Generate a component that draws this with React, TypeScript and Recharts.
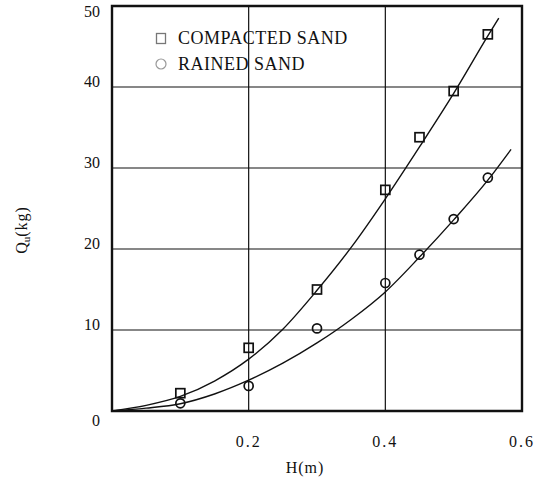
import React from "react"
import {
  ComposedChart,
  Line,
  Scatter,
  XAxis,
  YAxis,
  CartesianGrid,
  ReferenceArea,
} from "recharts"

// measured points (H in m, Qu in kg)
const compactedH = [0.1, 0.2, 0.3, 0.4, 0.45, 0.5, 0.55]
const compactedQ = [2.2, 7.8, 15.0, 27.3, 33.8, 39.5, 46.5]
const rainedH = [0.1, 0.2, 0.3, 0.4, 0.45, 0.5, 0.55]
const rainedQ = [0.95, 3.1, 10.2, 15.8, 19.3, 23.7, 28.8]

// fitted curves
const compactedCurveH = [0, 0.05, 0.1, 0.15, 0.2, 0.25, 0.3, 0.35, 0.4, 0.45, 0.5, 0.55, 0.566]
const compactedCurveQ = [0, 0.7, 1.8, 3.7, 6.4, 10.1, 14.9, 20.2, 26.2, 32.6, 39.2, 46.3, 48.5]
const rainedCurveH = [0, 0.05, 0.1, 0.15, 0.2, 0.25, 0.3, 0.35, 0.4, 0.45, 0.5, 0.55, 0.584]
const rainedCurveQ = [0, 0.35, 0.9, 2.1, 3.8, 5.9, 8.4, 11.3, 14.7, 19.0, 23.6, 28.5, 32.3]

const xTicks = [0.2, 0.4, 0.6]
const yTicks = [0, 10, 20, 30, 40, 50]

const legendItems = ["COMPACTED SAND", "RAINED SAND"]

const zip = (hs, qs) => hs.map((h, i) => ({ h, q: qs[i] }))

const INK = "#111"
const FONT = "'Liberation Serif', 'DejaVu Serif', serif"

const SquareDot = ({ cx, cy }) => (
  <rect x={cx - 4.5} y={cy - 4.5} width={9} height={9} fill="none" stroke={INK} strokeWidth={1.7} />
)

const CircleDot = ({ cx, cy }) => (
  <circle cx={cx} cy={cy} r={4.5} fill="none" stroke={INK} strokeWidth={1.7} />
)

const YTick = ({ y, payload }) => {
  const v = payload.value
  const dy = v === 0 ? 15 : v === 50 ? 8 : 0
  return (
    <text x={100} y={y + dy} textAnchor="end" fontSize={16} fontFamily={FONT} fill={INK}>
      {v}
    </text>
  )
}

const XTick = ({ x, y, payload }) => (
  <text x={x} y={y + 28} textAnchor="middle" fontSize={16} fontFamily={FONT} fill={INK} letterSpacing={2}>
    {payload.value.toFixed(1)}
  </text>
)

const LegendBox = () => (
  <div
    style={{
      position: "absolute",
      top: 25,
      left: 152,
      fontFamily: FONT,
      fontSize: 18,
      color: INK,
      letterSpacing: 0.5,
    }}
  >
    {legendItems.map((name, i) => (
      <div key={name} style={{ display: "flex", alignItems: "center", height: 26 }}>
        <svg width={18} height={18} style={{ marginRight: 8 }}>
          {i === 0 ? (
            <rect x={4.5} y={4.5} width={9} height={10} fill="none" stroke="#777" strokeWidth={1.3} />
          ) : (
            <circle cx={9} cy={9} r={5} fill="none" stroke="#999" strokeWidth={1.2} />
          )}
        </svg>
        <span style={{ lineHeight: "26px" }}>{name}</span>
      </div>
    ))}
  </div>
)

export default function App() {
  return (
    <div style={{ position: "absolute", left: 0, top: 0, width: 543, height: 481, background: "#fff" }}>
      <ComposedChart width={543} height={481} margin={{ top: 6, right: 21, left: 0, bottom: 0 }}>
        <CartesianGrid stroke={INK} strokeWidth={1.2} />
        <XAxis
          type="number"
          dataKey="h"
          domain={[0, 0.6]}
          ticks={xTicks}
          height={70}
          axisLine={false}
          tickLine={false}
          tick={<XTick />}
          allowDataOverflow
          label={({ viewBox }) => (
            <text
              x={viewBox.x + viewBox.width / 2 - 12}
              y={473}
              textAnchor="middle"
              fontSize={16}
              fontFamily={FONT}
              fill={INK}
              letterSpacing={1}
            >
              H(m)
            </text>
          )}
        />
        <YAxis
          type="number"
          domain={[0, 50]}
          ticks={yTicks}
          width={112}
          axisLine={false}
          tickLine={false}
          tick={<YTick />}
          allowDataOverflow
          label={() => (
            <text
              transform="translate(27,230) rotate(-90)"
              textAnchor="middle"
              fontSize={16}
              fontFamily={FONT}
              fill={INK}
            >
              Q<tspan fontSize={11} dy={3}>u</tspan>
              <tspan dy={-3} letterSpacing={1}>(kg)</tspan>
            </text>
          )}
        />
        <ReferenceArea
          x1={0}
          x2={0.6}
          y1={0}
          y2={50}
          fill="none"
          stroke={INK}
          strokeWidth={2.4}
          ifOverflow="visible"
        />
        <Line
          data={zip(compactedCurveH, compactedCurveQ)}
          dataKey="q"
          type="monotone"
          stroke={INK}
          strokeWidth={1.4}
          dot={false}
          isAnimationActive={false}
        />
        <Line
          data={zip(rainedCurveH, rainedCurveQ)}
          dataKey="q"
          type="monotone"
          stroke={INK}
          strokeWidth={1.4}
          dot={false}
          isAnimationActive={false}
        />
        <Scatter
          name="COMPACTED SAND"
          data={zip(compactedH, compactedQ)}
          dataKey="q"
          shape={<SquareDot />}
          isAnimationActive={false}
        />
        <Scatter
          name="RAINED SAND"
          data={zip(rainedH, rainedQ)}
          dataKey="q"
          shape={<CircleDot />}
          isAnimationActive={false}
        />
      </ComposedChart>
      <LegendBox />
    </div>
  )
}
